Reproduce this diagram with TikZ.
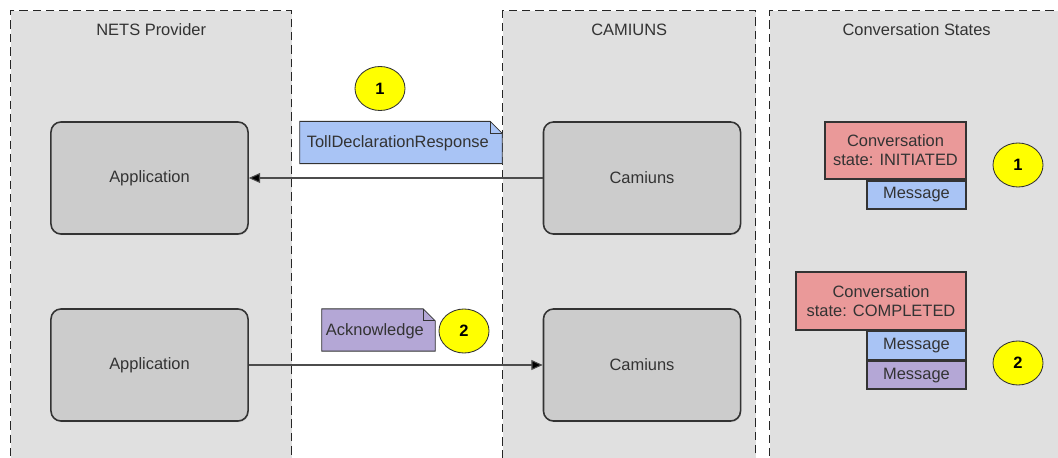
\documentclass[tikz,border=0pt]{standalone}
\usepackage{fontspec}
\setmainfont{Liberation Sans}
\usetikzlibrary{positioning,shapes,arrows.meta,shadows}
\definecolor{lanegray}{HTML}{E0E0E0}
\definecolor{boxgray}{HTML}{CCCCCC}
\definecolor{linedark}{HTML}{333333}
\definecolor{msgblue}{HTML}{A9C4F5}
\definecolor{msgpurple}{HTML}{B4A7D6}
\definecolor{statepink}{HTML}{EA9999}
\definecolor{stepyellow}{HTML}{FFFF00}

\begin{document}
\begin{tikzpicture}[x=0.025cm,y=-0.025cm,font=\fontsize{11.7}{13.5}\selectfont,text=linedark,
lane/.style={rectangle,fill=lanegray,draw=black!85,line width=0.95pt,dash pattern=on 6pt off 3.5pt,anchor=north west,minimum height=11.75cm,inner sep=0pt},
lane title/.style={inner sep=1pt},
app node/.style={rectangle,rounded corners=0.25cm,fill=boxgray,draw=linedark,line width=1.1pt,minimum width=4.925cm,minimum height=2.8cm,drop shadow={opacity=0.2,shadow xshift=0.6pt,shadow yshift=-0.8pt}},
note node/.style={rectangle,inner sep=0pt,minimum height=1.04cm},
note body/.style={draw=linedark,line width=0.6pt},
step node/.style={ellipse,fill=stepyellow,draw=linedark,line width=0.6pt,minimum width=1.25cm,minimum height=1.1cm,inner sep=0pt,font=\fontsize{11.7}{13.5}\selectfont\bfseries,text=black},
state node/.style={rectangle,fill=statepink,draw=linedark,line width=1.3pt,minimum height=1.43cm,align=center,inner sep=1pt},
msg node/.style={rectangle,draw=linedark,line width=1.3pt,minimum width=2.475cm,minimum height=0.7cm,inner sep=0pt},
flow/.style={draw=black!70,line width=0.75pt,-{Triangle[length=8pt,width=7pt]}}]

\clip (0,0) rectangle (1058,458);
\fill[white] (0,0) rectangle (1058,458);

% swim lanes
\node[lane,minimum width=7.025cm] (nets) at (10,10) {};
\node[lane,minimum width=6.325cm] (camiuns) at (502,10) {};
\node[lane,minimum width=7.525cm] (states) at (769,10) {};
\node[lane title,below=0.3cm of nets.north] (netstitle) {NETS Provider};
\node[lane title,below=0.3cm of camiuns.north] (camiunstitle) {CAMIUNS};
\node[lane title,below=0.3cm of states.north,xshift=-0.09cm] (statestitle) {Conversation States};

% applications
\node[app node] (app1) at (149.5,178) {Application};
\node[app node] (app2) at (149.5,365) {Application};
\node[app node] (cam1) at (642,178) {Camiuns};
\node[app node] (cam2) at (642,365) {Camiuns};

\path[flow]
(cam1) edge (app1)
(app2) edge (cam2)
;

% messages on the wire
\node[note node,minimum width=5.05cm] (tdr) at (401,142.5) {};
\node[note node,minimum width=2.825cm] (ack) at (378.5,330) {};
\foreach \n/\c in {tdr/msgblue,ack/msgpurple}{
  \filldraw[note body,fill=\c] (\n.south west) -- (\n.south east) -- ([yshift=-0.3cm]\n.north east)
    -- ([xshift=-0.3cm]\n.north east) -- (\n.north west) -- cycle;
  \draw[note body] ([xshift=-0.3cm]\n.north east) -- ([xshift=-0.3cm,yshift=-0.3cm]\n.north east)
    -- ([yshift=-0.3cm]\n.north east);
}
\node[inner sep=0pt] (tdrtext) at ([xshift=-0.08cm,yshift=-0.03cm]tdr.center) {TollDeclarationResponse};
\node[inner sep=0pt] (acktext) at ([xshift=-0.09cm,yshift=-0.03cm]ack.center) {Acknowledge};

\node[step node] (s1) at (380,88.5) {1};
\node[step node] (s2) at (464,331) {2};

% conversation states
\node[state node,minimum width=3.525cm] (initiated) at (895.5,150.5) {Conversation\\state: INITIATED};
\node[msg node,fill=msgblue,below=0pt of initiated.south east,anchor=north east] (initmsg) {Message};
\node[step node] (r1) at (1018,165) {1};

\node[state node,minimum width=4.25cm] (completed) at (881,301) {Conversation\\state: COMPLETED};
\node[msg node,fill=msgblue,below=0pt of completed.south east,anchor=north east] (compmsga) {Message};
\node[msg node,fill=msgpurple,below=0pt of compmsga.south east,anchor=north east] (compmsgb) {Message};
\node[step node] (r2) at (1018,363) {2};
\end{tikzpicture}
\end{document}
